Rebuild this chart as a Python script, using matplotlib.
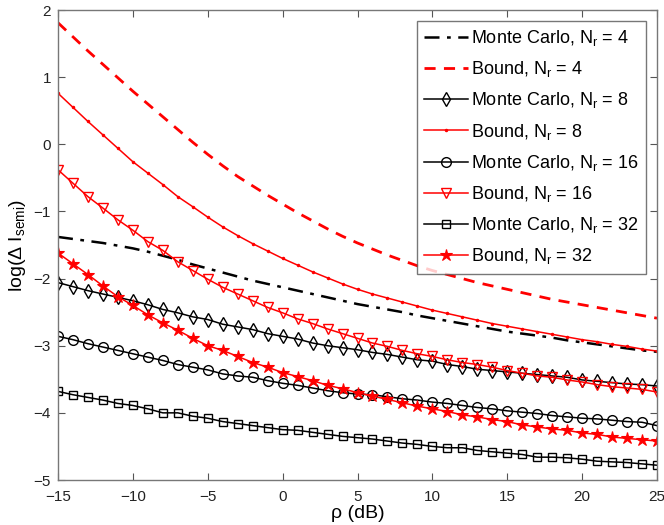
import numpy as np
import matplotlib
matplotlib.use("Agg")
import matplotlib.pyplot as plt

plt.rcParams['font.family'] = ['Liberation Sans', 'DejaVu Sans']
plt.rcParams['mathtext.fontset'] = 'custom'
plt.rcParams['mathtext.rm'] = 'Liberation Sans'
plt.rcParams['mathtext.it'] = 'Liberation Sans:italic'
plt.rcParams['axes.unicode_minus'] = True

rho_db = list(range(-15, 26))

mc_4 = [-1.38, -1.41, -1.44, -1.47, -1.51, -1.55, -1.60, -1.66, -1.72, -1.79, -1.85,
        -1.91, -1.97, -2.03, -2.08, -2.13, -2.18, -2.23, -2.28, -2.33, -2.38,
        -2.42, -2.46, -2.50, -2.55, -2.59, -2.63, -2.67, -2.71, -2.75, -2.79,
        -2.82, -2.85, -2.88, -2.92, -2.95, -2.98, -3.01, -3.04, -3.07, -3.09]
bound_4 = [1.81, 1.60, 1.39, 1.19, 0.99, 0.79, 0.60, 0.41, 0.22, 0.03, -0.15,
           -0.32, -0.48, -0.62, -0.76, -0.89, -1.02, -1.14, -1.26, -1.37, -1.47,
           -1.56, -1.65, -1.73, -1.81, -1.88, -1.94, -2.00, -2.06, -2.11, -2.16,
           -2.21, -2.26, -2.31, -2.35, -2.39, -2.43, -2.47, -2.51, -2.55, -2.59]
mc_8 = [-2.06, -2.12, -2.18, -2.23, -2.28, -2.33, -2.39, -2.46, -2.51, -2.57, -2.61,
        -2.68, -2.72, -2.76, -2.82, -2.86, -2.90, -2.96, -3.00, -3.03, -3.06,
        -3.10, -3.13, -3.17, -3.21, -3.23, -3.28, -3.31, -3.35, -3.37, -3.39,
        -3.41, -3.43, -3.45, -3.47, -3.51, -3.53, -3.55, -3.57, -3.58, -3.60]
bound_8 = [0.76, 0.55, 0.34, 0.14, -0.06, -0.26, -0.43, -0.60, -0.78, -0.93, -1.085,
           -1.23, -1.36, -1.48, -1.59, -1.70, -1.80, -1.90, -1.99, -2.08, -2.16,
           -2.23, -2.29, -2.35, -2.41, -2.47, -2.52, -2.57, -2.62, -2.67, -2.71,
           -2.75, -2.79, -2.83, -2.87, -2.91, -2.94, -2.98, -3.01, -3.05, -3.08]
mc_16 = [-2.86, -2.91, -2.97, -3.02, -3.07, -3.12, -3.17, -3.22, -3.28, -3.32, -3.36,
         -3.42, -3.45, -3.47, -3.52, -3.56, -3.59, -3.63, -3.67, -3.70, -3.72,
         -3.73, -3.76, -3.79, -3.81, -3.84, -3.86, -3.89, -3.92, -3.94, -3.97,
         -3.99, -4.01, -4.04, -4.06, -4.08, -4.09, -4.11, -4.13, -4.14, -4.19]
bound_16 = [-0.38, -0.58, -0.78, -0.95, -1.125, -1.28, -1.45, -1.58, -1.75, -1.88, -2.01,
            -2.13, -2.23, -2.33, -2.43, -2.51, -2.60, -2.67, -2.75, -2.82, -2.89,
            -2.96, -3.01, -3.07, -3.12, -3.16, -3.21, -3.25, -3.28, -3.32, -3.37,
            -3.41, -3.45, -3.47, -3.51, -3.54, -3.58, -3.61, -3.63, -3.65, -3.69]
mc_32 = [-3.68, -3.73, -3.77, -3.81, -3.86, -3.89, -3.94, -4.00, -4.00, -4.05, -4.08,
         -4.13, -4.16, -4.19, -4.22, -4.25, -4.26, -4.29, -4.32, -4.35, -4.37,
         -4.39, -4.42, -4.45, -4.47, -4.50, -4.52, -4.52, -4.56, -4.58, -4.60,
         -4.62, -4.66, -4.66, -4.67, -4.69, -4.72, -4.73, -4.74, -4.76, -4.78]
bound_32 = [-1.62, -1.78, -1.94, -2.11, -2.27, -2.40, -2.54, -2.66, -2.77, -2.89, -3.00,
            -3.07, -3.16, -3.25, -3.32, -3.40, -3.46, -3.52, -3.59, -3.64, -3.70,
            -3.75, -3.80, -3.85, -3.90, -3.94, -3.98, -4.03, -4.06, -4.10, -4.13,
            -4.18, -4.21, -4.24, -4.26, -4.30, -4.32, -4.36, -4.38, -4.40, -4.42]

x_ticks = [-15, -10, -5, 0, 5, 10, 15, 20, 25]
y_ticks = [-5, -4, -3, -2, -1, 0, 1, 2]

RED = '#ff0000'
fig = plt.figure(figsize=(6.64, 5.25), dpi=100)
ax = fig.add_axes([58/664, 1-480/525, (657-58)/664, (480-10)/525])

lw = 1.1
ax.plot(rho_db, mc_4, color='black', ls=(0, (6, 3, 1.5, 3)), lw=1.8,
        label=r'Monte Carlo, N$_\mathregular{r}$ = 4')
ax.plot(rho_db, bound_4, color=RED, ls=(0, (4, 3)), lw=2.0,
        label=r'Bound, N$_\mathregular{r}$ = 4')
ax.plot(rho_db, mc_8, color='black', lw=lw, marker='d', ms=7.5, mfc='none', mew=1.0,
        label=r'Monte Carlo, N$_\mathregular{r}$ = 8')
ax.plot(rho_db, bound_8, color=RED, lw=lw, marker='.', ms=3,
        label=r'Bound, N$_\mathregular{r}$ = 8')
ax.plot(rho_db, mc_16, color='black', lw=lw, marker='o', ms=7, mfc='none', mew=1.0,
        label=r'Monte Carlo, N$_\mathregular{r}$ = 16')
ax.plot(rho_db, bound_16, color=RED, lw=lw, marker='v', ms=7, mfc='none', mew=1.0,
        label=r'Bound, N$_\mathregular{r}$ = 16')
ax.plot(rho_db, mc_32, color='black', lw=lw, marker='s', ms=5.5, mfc='none', mew=1.0,
        label=r'Monte Carlo, N$_\mathregular{r}$ = 32')
ax.plot(rho_db, bound_32, color=RED, lw=lw, marker='*', ms=9, mfc=RED, mew=0.8,
        label=r'Bound, N$_\mathregular{r}$ = 32')

ax.set_xlim(-15, 25)
ax.set_ylim(-5, 2)
ax.set_xticks(x_ticks)
ax.set_yticks(y_ticks)
ax.tick_params(direction='in', top=True, right=True, labelsize=11, length=5,
               color='#555555', labelcolor='#222222')
ax.tick_params(axis='x', pad=7)
ax.tick_params(axis='y', pad=5)
for s in ax.spines.values():
    s.set_color('#777777')
    s.set_linewidth(1.0)

ax.set_xlabel('ρ (dB)', fontsize=14, labelpad=1)
ax.set_ylabel(r'log(Δ I$_\mathregular{semi}$)', fontsize=14, labelpad=4)

leg = ax.legend(loc='upper right', fontsize=13, frameon=True, fancybox=False,
                handlelength=2.4, handletextpad=0.2, borderpad=0.4,
                labelspacing=0.62, borderaxespad=0.6)
leg.get_frame().set_edgecolor('#555555')
leg.get_frame().set_linewidth(1.0)

fig.savefig('out.png', dpi=100)
